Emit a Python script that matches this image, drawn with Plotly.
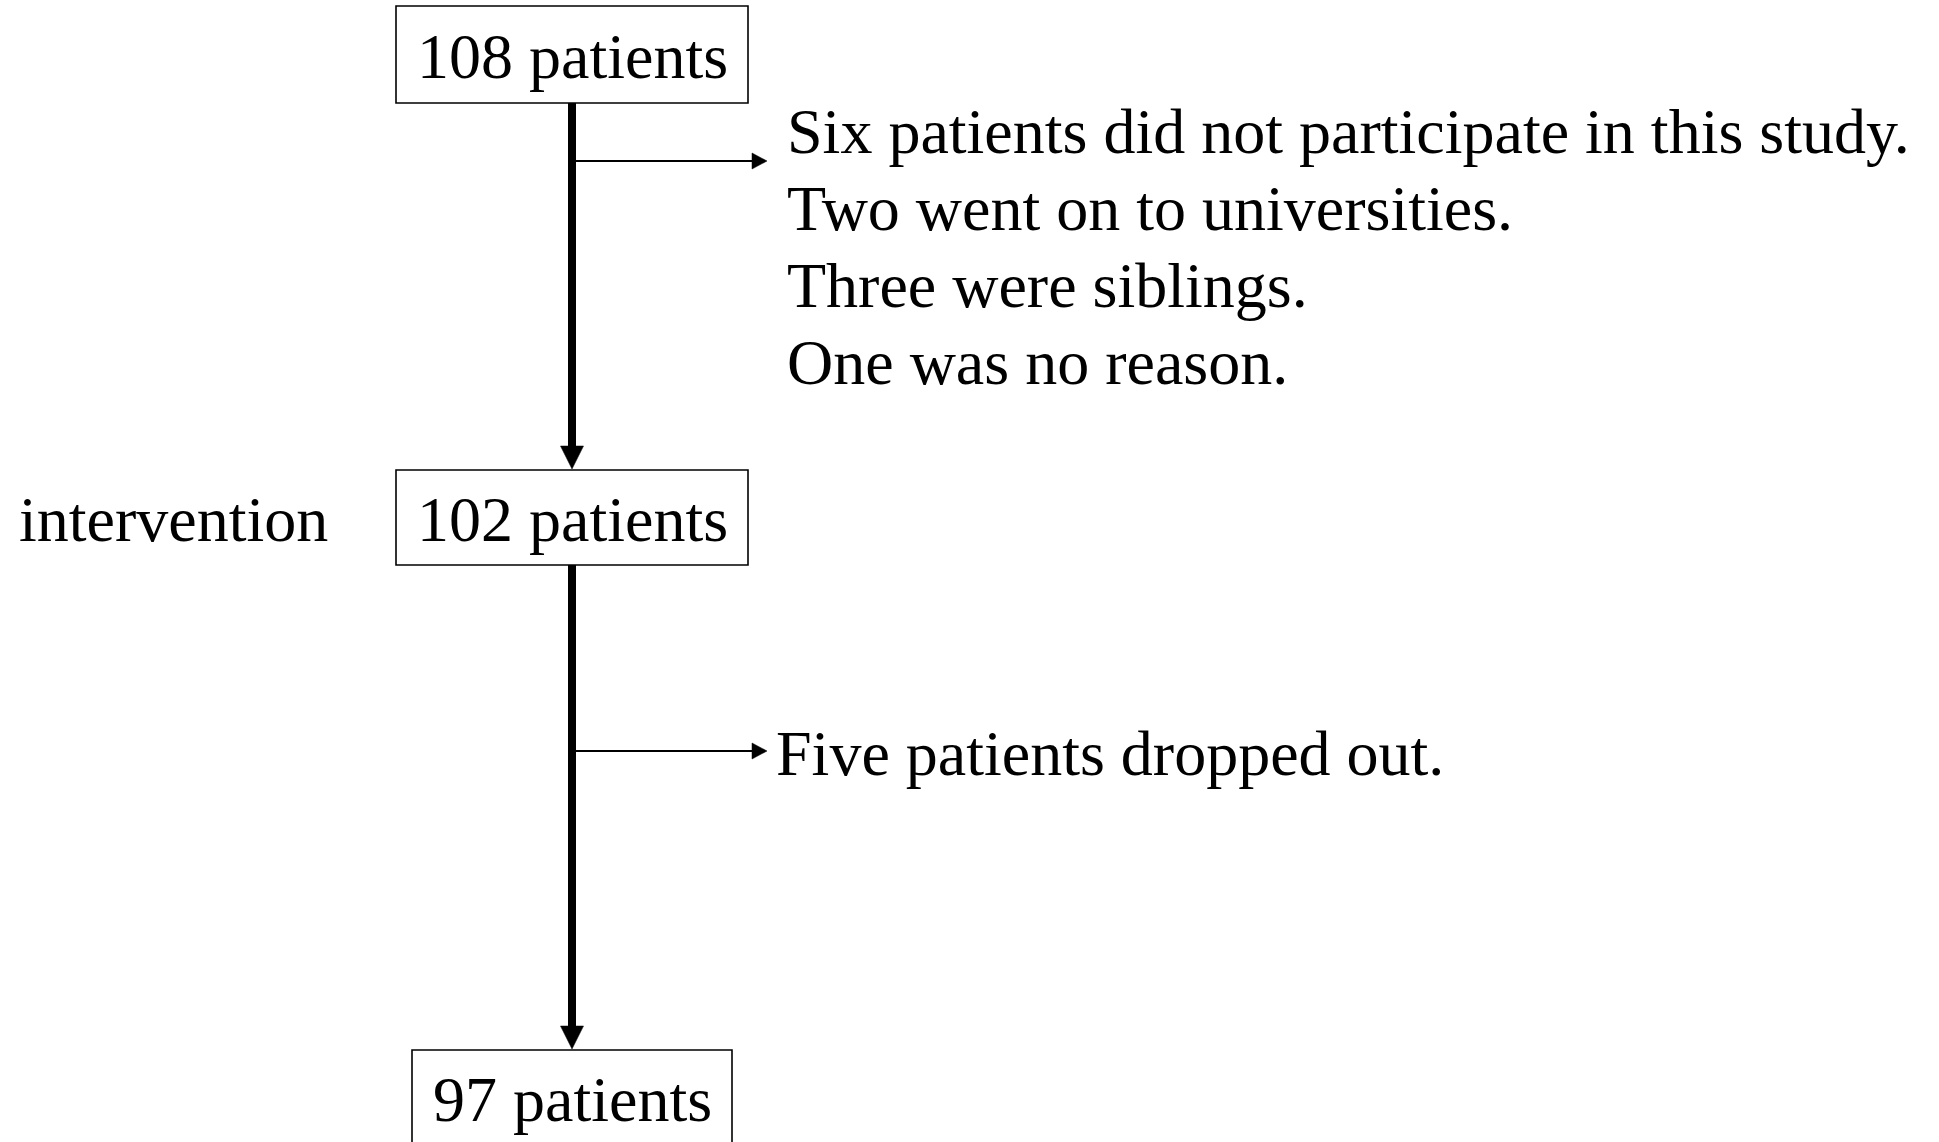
import plotly.graph_objects as go

# ---- content (data) ----
stage_labels = ["108 patients", "102 patients", "97 patients"]
phase_labels = ["", "intervention", ""]
exclusion_notes_1 = [
    "Six patients did not participate in this study.",
    "Two went on to universities.",
    "Three were siblings.",
    "One was no reason.",
]
exclusion_notes_2 = ["Five patients dropped out."]
exclusions = [exclusion_notes_1, exclusion_notes_2]

# ---- layout geometry (pixels, y downwards) ----
W, H = 1939, 1142
FONT = "Liberation Serif, Times New Roman, Times, serif"
FS = 64
box_x = [(396, 748), (396, 748), (412, 732)]
box_y = [(6, 103), (470, 565), (1050, 1170)]
label_y = [56, 519, 1099]
phase_x = 173
spine_x = 572
spine_w = 8
branch_y = [161, 751]
branch_end = 767
note_x = [785, 774]
note_y0 = [131, 753]
note_dy = 77.2
big_head = (23, 23)   # width, length
small_head = (16, 15)  # height, length

fig = go.Figure()
shapes = []
annotations = []

for i, lab in enumerate(stage_labels):
    x0, x1 = box_x[i]
    y0, y1 = box_y[i]
    shapes.append(dict(type="rect", xref="x", yref="y", x0=x0, x1=x1, y0=y0, y1=y1,
                       line=dict(color="black", width=1.6), fillcolor="white", layer="above"))
    annotations.append(dict(x=(x0 + x1) / 2, y=label_y[i], xref="x", yref="y", text=lab,
                            showarrow=False, xanchor="center", yanchor="middle",
                            font=dict(family=FONT, size=FS, color="black")))
    if phase_labels[i]:
        annotations.append(dict(x=phase_x, y=label_y[i], xref="x", yref="y", text=phase_labels[i],
                                showarrow=False, xanchor="center", yanchor="middle",
                                font=dict(family=FONT, size=FS, color="black")))

# spines between boxes with filled arrowheads
for i in range(len(stage_labels) - 1):
    top = box_y[i][1]
    tip = box_y[i + 1][0] - 1
    bw, bl = big_head
    fig.add_trace(go.Scatter(x=[spine_x, spine_x], y=[top, tip - bl + 2], mode="lines",
                             line=dict(color="black", width=spine_w), hoverinfo="skip",
                             showlegend=False))
    shapes.append(dict(type="path", xref="x", yref="y",
                       path=f"M {spine_x - bw/2} {tip - bl} L {spine_x + bw/2} {tip - bl} L {spine_x} {tip} Z",
                       fillcolor="black", line=dict(color="black", width=0.5)))

# branches to exclusion notes
for j, notes in enumerate(exclusions):
    by = branch_y[j]
    sh, sl = small_head
    fig.add_trace(go.Scatter(x=[spine_x, branch_end - sl + 1], y=[by, by], mode="lines",
                             line=dict(color="black", width=2), hoverinfo="skip",
                             showlegend=False))
    shapes.append(dict(type="path", xref="x", yref="y",
                       path=f"M {branch_end - sl} {by - sh/2} L {branch_end} {by} L {branch_end - sl} {by + sh/2} Z",
                       fillcolor="black", line=dict(color="black", width=0.5)))
    for k, note in enumerate(notes):
        annotations.append(dict(x=note_x[j], y=note_y0[j] + k * note_dy, xref="x", yref="y",
                                text=note, showarrow=False, xanchor="left", yanchor="middle",
                                font=dict(family=FONT, size=FS, color="black")))

fig.update_layout(
    width=W, height=H, autosize=False,
    margin=dict(l=0, r=0, t=0, b=0, pad=0),
    paper_bgcolor="white", plot_bgcolor="white",
    xaxis=dict(range=[0, W], visible=False, fixedrange=True),
    yaxis=dict(range=[H, 0], visible=False, fixedrange=True),
    shapes=shapes, annotations=annotations, showlegend=False,
)

fig.write_html("out.html", config={"displayModeBar": False},
               post_script="document.body.style.margin='0';document.body.style.overflow='hidden';")
